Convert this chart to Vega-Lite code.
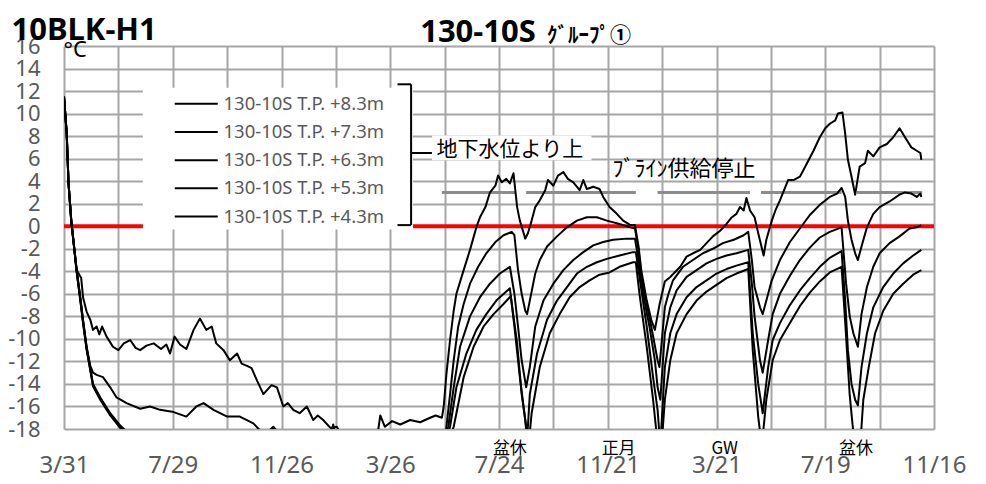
{
"$schema":"https://vega.github.io/schema/vega-lite/v6.json",
"width":870,"height":383,"autosize":"none",
"padding":{"left":64,"top":46,"right":52,"bottom":55},
"background":"white",
"config":{"view":{"stroke":null},"font":"Noto Sans",
 "axis":{"grid":true,"gridColor":"#A6A6A6","gridWidth":2,"ticks":false,"domain":false,"labelPadding":24,"labelFont":"Noto Sans","labelColor":"#595959","labelOverlap":false,"labelFlush":false,"labelBound":false},
 "axisX":{"labelFontSize":24,"labelBaseline":"top"},
 "axisY":{"labelFontSize":22,"labelOverlap":false}},
"layer":[
{"data":{"values":[{}]},"mark":{"type":"rule","color":"#FF0000","strokeWidth":4},
 "encoding":{"y":{"datum":0,"type":"quantitative","scale":{"domain":[-18,16],"nice":false,"zero":false},
   "axis":{"values":[-18,-16,-14,-12,-10,-8,-6,-4,-2,0,2,4,6,8,10,12,14,16],"tickCount":40,"labelExpr":"'' + datum.value","labelOverlap":false,
    "title":"°C","titleAngle":0,"titleAlign":"left","titleBaseline":"alphabetic","titleX":-1,"titleY":10,"titleFont":"Noto Sans","titleFontSize":22,"titleFontWeight":"normal","titleColor":"#000000"}}}},
{"data":{"values":[{"s":"2022-05-22","e":"2022-08-11"},{"s":"2022-08-23","e":"2022-12-22"},{"s":"2023-01-15","e":"2023-04-27"},{"s":"2023-05-09","e":"2023-08-06"},{"s":"2023-08-23","e":"2023-11-03"}]},
 "mark":{"type":"rule","color":"#8C8C8C","strokeWidth":3},
 "encoding":{"x":{"field":"s","type":"temporal","title":null,"scale":{"type":"utc","domain":[{"year":2021,"month":3,"date":31,"utc":true},{"year":2023,"month":11,"date":16,"utc":true}]}},"x2":{"field":"e"},"y":{"datum":3,"type":"quantitative"}}},
{"data":{"values":[{}]},"mark":{"type":"rect","fill":"white"},
 "encoding":{"x":{"datum":{"year":2021,"month":6,"date":26,"utc":true},"type":"temporal","title":null},"x2":{"datum":{"year":2022,"month":4,"date":20,"utc":true}},"y":{"datum":12.3,"type":"quantitative"},"y2":{"datum":-0.3}}},
{"data":{"values":[{}]},"mark":{"type":"rect","fill":"white"},
 "encoding":{"x":{"datum":{"year":2022,"month":5,"date":11,"utc":true},"type":"temporal","title":null},"x2":{"datum":{"year":2022,"month":11,"date":3,"utc":true}},"y":{"datum":8.05,"type":"quantitative"},"y2":{"datum":5.85}}},
{"data":{"values":[
{"t":"2021-03-31","s":"+8.3m","v":11.5},{"t":"2021-04-03","s":"+8.3m","v":8.2},{"t":"2021-04-05","s":"+8.3m","v":3.8},{"t":"2021-04-08","s":"+8.3m","v":0.5},{"t":"2021-04-14","s":"+8.3m","v":-3.9},{"t":"2021-04-19","s":"+8.3m","v":-4.6},{"t":"2021-04-21","s":"+8.3m","v":-6.3},{"t":"2021-04-25","s":"+8.3m","v":-7.6},{"t":"2021-04-29","s":"+8.3m","v":-8.3},{"t":"2021-05-02","s":"+8.3m","v":-9.2},{"t":"2021-05-06","s":"+8.3m","v":-8.9},{"t":"2021-05-09","s":"+8.3m","v":-9.6},{"t":"2021-05-12","s":"+8.3m","v":-8.9},{"t":"2021-05-17","s":"+8.3m","v":-9.8},{"t":"2021-05-24","s":"+8.3m","v":-10.7},{"t":"2021-05-30","s":"+8.3m","v":-11.0},{"t":"2021-06-05","s":"+8.3m","v":-10.4},{"t":"2021-06-12","s":"+8.3m","v":-10.1},{"t":"2021-06-18","s":"+8.3m","v":-10.8},{"t":"2021-06-23","s":"+8.3m","v":-11.0},{"t":"2021-06-30","s":"+8.3m","v":-10.6},{"t":"2021-07-08","s":"+8.3m","v":-10.4},{"t":"2021-07-16","s":"+8.3m","v":-10.9},{"t":"2021-07-22","s":"+8.3m","v":-10.5},{"t":"2021-07-26","s":"+8.3m","v":-11.3},{"t":"2021-07-31","s":"+8.3m","v":-9.8},{"t":"2021-08-06","s":"+8.3m","v":-10.5},{"t":"2021-08-13","s":"+8.3m","v":-10.9},{"t":"2021-08-21","s":"+8.3m","v":-9.2},{"t":"2021-08-28","s":"+8.3m","v":-8.2},{"t":"2021-09-04","s":"+8.3m","v":-9.2},{"t":"2021-09-10","s":"+8.3m","v":-8.9},{"t":"2021-09-15","s":"+8.3m","v":-10.4},{"t":"2021-09-23","s":"+8.3m","v":-11.0},{"t":"2021-09-30","s":"+8.3m","v":-11.9},{"t":"2021-10-08","s":"+8.3m","v":-11.3},{"t":"2021-10-13","s":"+8.3m","v":-12.2},{"t":"2021-10-19","s":"+8.3m","v":-12.4},{"t":"2021-10-24","s":"+8.3m","v":-12.6},{"t":"2021-10-30","s":"+8.3m","v":-13.7},{"t":"2021-11-06","s":"+8.3m","v":-14.9},{"t":"2021-11-15","s":"+8.3m","v":-14.1},{"t":"2021-11-21","s":"+8.3m","v":-14.3},{"t":"2021-11-28","s":"+8.3m","v":-16.0},{"t":"2021-12-03","s":"+8.3m","v":-15.7},{"t":"2021-12-09","s":"+8.3m","v":-16.3},{"t":"2021-12-16","s":"+8.3m","v":-16.6},{"t":"2021-12-24","s":"+8.3m","v":-16.0},{"t":"2021-12-31","s":"+8.3m","v":-17.2},{"t":"2022-01-05","s":"+8.3m","v":-16.8},{"t":"2022-01-11","s":"+8.3m","v":-17.2},{"t":"2022-01-19","s":"+8.3m","v":-17.9},{"t":"2022-01-26","s":"+8.3m","v":-17.8},{"t":"2022-02-04","s":"+8.3m","v":-19.0},{"t":"2022-03-04","s":"+8.3m","v":-19.0},{"t":"2022-03-12","s":"+8.3m","v":-18.5},{"t":"2022-03-15","s":"+8.3m","v":-16.8},{"t":"2022-03-20","s":"+8.3m","v":-17.8},{"t":"2022-03-28","s":"+8.3m","v":-17.3},{"t":"2022-04-06","s":"+8.3m","v":-17.6},{"t":"2022-04-17","s":"+8.3m","v":-17.2},{"t":"2022-04-28","s":"+8.3m","v":-17.4},{"t":"2022-05-09","s":"+8.3m","v":-17.0},{"t":"2022-05-15","s":"+8.3m","v":-16.8},{"t":"2022-05-22","s":"+8.3m","v":-17.0},{"t":"2022-05-24","s":"+8.3m","v":-16.0},{"t":"2022-05-27","s":"+8.3m","v":-13.1},{"t":"2022-05-31","s":"+8.3m","v":-10.1},{"t":"2022-06-04","s":"+8.3m","v":-7.5},{"t":"2022-06-07","s":"+8.3m","v":-6.0},{"t":"2022-06-15","s":"+8.3m","v":-3.9},{"t":"2022-06-22","s":"+8.3m","v":-2.1},{"t":"2022-06-29","s":"+8.3m","v":-0.1},{"t":"2022-07-03","s":"+8.3m","v":0.8},{"t":"2022-07-09","s":"+8.3m","v":1.7},{"t":"2022-07-14","s":"+8.3m","v":3.0},{"t":"2022-07-20","s":"+8.3m","v":3.6},{"t":"2022-07-23","s":"+8.3m","v":4.5},{"t":"2022-07-27","s":"+8.3m","v":3.9},{"t":"2022-08-01","s":"+8.3m","v":4.2},{"t":"2022-08-05","s":"+8.3m","v":3.8},{"t":"2022-08-09","s":"+8.3m","v":4.7},{"t":"2022-08-13","s":"+8.3m","v":1.7},{"t":"2022-08-16","s":"+8.3m","v":0.5},{"t":"2022-08-22","s":"+8.3m","v":-1.1},{"t":"2022-08-25","s":"+8.3m","v":-0.6},{"t":"2022-08-29","s":"+8.3m","v":0.5},{"t":"2022-09-02","s":"+8.3m","v":1.7},{"t":"2022-09-07","s":"+8.3m","v":2.3},{"t":"2022-09-13","s":"+8.3m","v":3.2},{"t":"2022-09-16","s":"+8.3m","v":4.1},{"t":"2022-09-22","s":"+8.3m","v":3.6},{"t":"2022-09-27","s":"+8.3m","v":4.5},{"t":"2022-10-03","s":"+8.3m","v":4.8},{"t":"2022-10-08","s":"+8.3m","v":4.2},{"t":"2022-10-14","s":"+8.3m","v":3.9},{"t":"2022-10-21","s":"+8.3m","v":3.2},{"t":"2022-10-25","s":"+8.3m","v":4.1},{"t":"2022-10-29","s":"+8.3m","v":3.3},{"t":"2022-11-05","s":"+8.3m","v":3.5},{"t":"2022-11-12","s":"+8.3m","v":3.3},{"t":"2022-11-16","s":"+8.3m","v":2.6},{"t":"2022-11-23","s":"+8.3m","v":1.7},{"t":"2022-12-01","s":"+8.3m","v":1.1},{"t":"2022-12-08","s":"+8.3m","v":0.5},{"t":"2022-12-16","s":"+8.3m","v":0.1},{"t":"2022-12-21","s":"+8.3m","v":0.1},{"t":"2022-12-25","s":"+8.3m","v":-1.8},{"t":"2022-12-28","s":"+8.3m","v":-3.9},{"t":"2023-01-03","s":"+8.3m","v":-6.6},{"t":"2023-01-08","s":"+8.3m","v":-8.3},{"t":"2023-01-12","s":"+8.3m","v":-9.2},{"t":"2023-01-17","s":"+8.3m","v":-7.0},{"t":"2023-01-23","s":"+8.3m","v":-4.9},{"t":"2023-01-29","s":"+8.3m","v":-4.5},{"t":"2023-02-09","s":"+8.3m","v":-3.6},{"t":"2023-02-16","s":"+8.3m","v":-2.7},{"t":"2023-02-23","s":"+8.3m","v":-2.4},{"t":"2023-03-03","s":"+8.3m","v":-2.1},{"t":"2023-03-10","s":"+8.3m","v":-1.5},{"t":"2023-03-17","s":"+8.3m","v":-0.9},{"t":"2023-03-25","s":"+8.3m","v":-0.4},{"t":"2023-04-01","s":"+8.3m","v":0.2},{"t":"2023-04-07","s":"+8.3m","v":0.8},{"t":"2023-04-12","s":"+8.3m","v":1.1},{"t":"2023-04-16","s":"+8.3m","v":1.7},{"t":"2023-04-20","s":"+8.3m","v":1.4},{"t":"2023-04-23","s":"+8.3m","v":2.5},{"t":"2023-04-27","s":"+8.3m","v":1.4},{"t":"2023-05-02","s":"+8.3m","v":0.8},{"t":"2023-05-06","s":"+8.3m","v":-0.6},{"t":"2023-05-12","s":"+8.3m","v":-2.6},{"t":"2023-05-15","s":"+8.3m","v":-1.2},{"t":"2023-05-21","s":"+8.3m","v":0.5},{"t":"2023-05-25","s":"+8.3m","v":1.4},{"t":"2023-05-30","s":"+8.3m","v":2.3},{"t":"2023-06-08","s":"+8.3m","v":4.1},{"t":"2023-06-14","s":"+8.3m","v":4.1},{"t":"2023-06-21","s":"+8.3m","v":4.4},{"t":"2023-06-27","s":"+8.3m","v":5.3},{"t":"2023-07-06","s":"+8.3m","v":6.7},{"t":"2023-07-13","s":"+8.3m","v":7.9},{"t":"2023-07-19","s":"+8.3m","v":8.7},{"t":"2023-07-24","s":"+8.3m","v":9.1},{"t":"2023-07-30","s":"+8.3m","v":9.4},{"t":"2023-08-02","s":"+8.3m","v":10.0},{"t":"2023-08-07","s":"+8.3m","v":10.1},{"t":"2023-08-10","s":"+8.3m","v":8.2},{"t":"2023-08-13","s":"+8.3m","v":5.9},{"t":"2023-08-17","s":"+8.3m","v":4.4},{"t":"2023-08-21","s":"+8.3m","v":2.8},{"t":"2023-08-23","s":"+8.3m","v":3.8},{"t":"2023-08-26","s":"+8.3m","v":5.3},{"t":"2023-09-01","s":"+8.3m","v":5.6},{"t":"2023-09-04","s":"+8.3m","v":6.7},{"t":"2023-09-10","s":"+8.3m","v":6.2},{"t":"2023-09-17","s":"+8.3m","v":7.0},{"t":"2023-09-25","s":"+8.3m","v":7.3},{"t":"2023-10-02","s":"+8.3m","v":7.9},{"t":"2023-10-09","s":"+8.3m","v":8.7},{"t":"2023-10-15","s":"+8.3m","v":7.9},{"t":"2023-10-22","s":"+8.3m","v":7.0},{"t":"2023-10-28","s":"+8.3m","v":6.7},{"t":"2023-11-01","s":"+8.3m","v":6.5},{"t":"2023-11-02","s":"+8.3m","v":5.9},
{"t":"2021-03-31","s":"+7.3m","v":11.5},{"t":"2021-04-03","s":"+7.3m","v":8.2},{"t":"2021-04-05","s":"+7.3m","v":3.8},{"t":"2021-04-08","s":"+7.3m","v":0.5},{"t":"2021-04-14","s":"+7.3m","v":-3.9},{"t":"2021-04-18","s":"+7.3m","v":-6.3},{"t":"2021-04-21","s":"+7.3m","v":-8.3},{"t":"2021-04-25","s":"+7.3m","v":-10.7},{"t":"2021-04-29","s":"+7.3m","v":-12.4},{"t":"2021-05-02","s":"+7.3m","v":-13.0},{"t":"2021-05-06","s":"+7.3m","v":-13.2},{"t":"2021-05-13","s":"+7.3m","v":-13.4},{"t":"2021-05-21","s":"+7.3m","v":-14.3},{"t":"2021-05-28","s":"+7.3m","v":-15.2},{"t":"2021-06-08","s":"+7.3m","v":-15.7},{"t":"2021-06-23","s":"+7.3m","v":-16.2},{"t":"2021-07-04","s":"+7.3m","v":-16.0},{"t":"2021-07-15","s":"+7.3m","v":-16.3},{"t":"2021-07-30","s":"+7.3m","v":-16.5},{"t":"2021-08-13","s":"+7.3m","v":-16.9},{"t":"2021-08-24","s":"+7.3m","v":-16.0},{"t":"2021-09-01","s":"+7.3m","v":-15.7},{"t":"2021-09-12","s":"+7.3m","v":-16.3},{"t":"2021-09-27","s":"+7.3m","v":-16.9},{"t":"2021-10-11","s":"+7.3m","v":-16.9},{"t":"2021-10-26","s":"+7.3m","v":-17.5},{"t":"2021-11-02","s":"+7.3m","v":-18.1},{"t":"2021-11-09","s":"+7.3m","v":-18.4},{"t":"2021-11-17","s":"+7.3m","v":-17.8},{"t":"2021-11-24","s":"+7.3m","v":-18.5},{"t":"2021-12-16","s":"+7.3m","v":-18.8},{"t":"2022-01-19","s":"+7.3m","v":-18.6},{"t":"2022-01-22","s":"+7.3m","v":-17.6},{"t":"2022-01-25","s":"+7.3m","v":-18.6},{"t":"2022-02-20","s":"+7.3m","v":-20.0},{"t":"2022-04-30","s":"+7.3m","v":-20.0},{"t":"2022-05-25","s":"+7.3m","v":-19.5},{"t":"2022-05-27","s":"+7.3m","v":-17.8},{"t":"2022-05-31","s":"+7.3m","v":-14.9},{"t":"2022-06-04","s":"+7.3m","v":-11.9},{"t":"2022-06-09","s":"+7.3m","v":-8.9},{"t":"2022-06-15","s":"+7.3m","v":-6.9},{"t":"2022-06-22","s":"+7.3m","v":-5.1},{"t":"2022-07-01","s":"+7.3m","v":-3.6},{"t":"2022-07-10","s":"+7.3m","v":-2.4},{"t":"2022-07-20","s":"+7.3m","v":-1.4},{"t":"2022-07-29","s":"+7.3m","v":-0.8},{"t":"2022-08-07","s":"+7.3m","v":-0.5},{"t":"2022-08-10","s":"+7.3m","v":-0.8},{"t":"2022-08-14","s":"+7.3m","v":-3.9},{"t":"2022-08-18","s":"+7.3m","v":-6.0},{"t":"2022-08-22","s":"+7.3m","v":-7.5},{"t":"2022-08-24","s":"+7.3m","v":-7.8},{"t":"2022-08-27","s":"+7.3m","v":-6.6},{"t":"2022-09-02","s":"+7.3m","v":-4.2},{"t":"2022-09-07","s":"+7.3m","v":-3.0},{"t":"2022-09-15","s":"+7.3m","v":-1.8},{"t":"2022-09-26","s":"+7.3m","v":-0.9},{"t":"2022-10-07","s":"+7.3m","v":-0.1},{"t":"2022-10-18","s":"+7.3m","v":0.5},{"t":"2022-10-29","s":"+7.3m","v":0.8},{"t":"2022-11-09","s":"+7.3m","v":0.8},{"t":"2022-11-20","s":"+7.3m","v":0.5},{"t":"2022-12-04","s":"+7.3m","v":0.2},{"t":"2022-12-16","s":"+7.3m","v":-0.1},{"t":"2022-12-21","s":"+7.3m","v":-0.2},{"t":"2022-12-25","s":"+7.3m","v":-2.1},{"t":"2022-12-28","s":"+7.3m","v":-4.5},{"t":"2023-01-03","s":"+7.3m","v":-6.9},{"t":"2023-01-08","s":"+7.3m","v":-8.9},{"t":"2023-01-15","s":"+7.3m","v":-11.9},{"t":"2023-01-17","s":"+7.3m","v":-12.5},{"t":"2023-01-23","s":"+7.3m","v":-7.2},{"t":"2023-01-27","s":"+7.3m","v":-6.0},{"t":"2023-02-01","s":"+7.3m","v":-4.8},{"t":"2023-02-12","s":"+7.3m","v":-3.6},{"t":"2023-02-23","s":"+7.3m","v":-3.0},{"t":"2023-03-06","s":"+7.3m","v":-2.4},{"t":"2023-03-17","s":"+7.3m","v":-2.0},{"t":"2023-03-28","s":"+7.3m","v":-1.5},{"t":"2023-04-09","s":"+7.3m","v":-1.2},{"t":"2023-04-20","s":"+7.3m","v":-0.8},{"t":"2023-04-25","s":"+7.3m","v":-0.5},{"t":"2023-04-29","s":"+7.3m","v":-3.0},{"t":"2023-05-02","s":"+7.3m","v":-5.4},{"t":"2023-05-08","s":"+7.3m","v":-7.2},{"t":"2023-05-11","s":"+7.3m","v":-7.8},{"t":"2023-05-15","s":"+7.3m","v":-6.6},{"t":"2023-05-21","s":"+7.3m","v":-4.8},{"t":"2023-05-26","s":"+7.3m","v":-3.8},{"t":"2023-05-30","s":"+7.3m","v":-3.0},{"t":"2023-06-10","s":"+7.3m","v":-1.4},{"t":"2023-06-21","s":"+7.3m","v":-0.2},{"t":"2023-07-02","s":"+7.3m","v":1.0},{"t":"2023-07-13","s":"+7.3m","v":1.9},{"t":"2023-07-24","s":"+7.3m","v":2.6},{"t":"2023-08-01","s":"+7.3m","v":2.9},{"t":"2023-08-06","s":"+7.3m","v":3.4},{"t":"2023-08-10","s":"+7.3m","v":2.6},{"t":"2023-08-13","s":"+7.3m","v":0.5},{"t":"2023-08-17","s":"+7.3m","v":-1.2},{"t":"2023-08-21","s":"+7.3m","v":-2.4},{"t":"2023-08-24","s":"+7.3m","v":-3.0},{"t":"2023-08-28","s":"+7.3m","v":-1.8},{"t":"2023-09-03","s":"+7.3m","v":-0.1},{"t":"2023-09-10","s":"+7.3m","v":1.1},{"t":"2023-09-17","s":"+7.3m","v":1.7},{"t":"2023-09-28","s":"+7.3m","v":2.2},{"t":"2023-10-09","s":"+7.3m","v":2.8},{"t":"2023-10-15","s":"+7.3m","v":3.0},{"t":"2023-10-22","s":"+7.3m","v":2.9},{"t":"2023-10-28","s":"+7.3m","v":2.6},{"t":"2023-11-01","s":"+7.3m","v":2.9},{"t":"2023-11-02","s":"+7.3m","v":2.6},
{"t":"2021-03-31","s":"+6.3m","v":11.5},{"t":"2021-04-03","s":"+6.3m","v":8.2},{"t":"2021-04-05","s":"+6.3m","v":3.8},{"t":"2021-04-08","s":"+6.3m","v":0.5},{"t":"2021-04-14","s":"+6.3m","v":-4.0},{"t":"2021-04-18","s":"+6.3m","v":-6.4},{"t":"2021-04-21","s":"+6.3m","v":-8.4},{"t":"2021-04-25","s":"+6.3m","v":-10.8},{"t":"2021-04-29","s":"+6.3m","v":-12.6},{"t":"2021-05-02","s":"+6.3m","v":-14.0},{"t":"2021-05-10","s":"+6.3m","v":-15.2},{"t":"2021-05-21","s":"+6.3m","v":-16.6},{"t":"2021-06-01","s":"+6.3m","v":-17.7},{"t":"2021-06-08","s":"+6.3m","v":-18.2},{"t":"2021-06-20","s":"+6.3m","v":-18.8},{"t":"2021-09-01","s":"+6.3m","v":-19.5},{"t":"2022-01-01","s":"+6.3m","v":-20.0},{"t":"2022-05-20","s":"+6.3m","v":-20.0},{"t":"2022-05-29","s":"+6.3m","v":-17.8},{"t":"2022-06-04","s":"+6.3m","v":-14.3},{"t":"2022-06-11","s":"+6.3m","v":-10.7},{"t":"2022-06-22","s":"+6.3m","v":-8.0},{"t":"2022-07-03","s":"+6.3m","v":-6.3},{"t":"2022-07-14","s":"+6.3m","v":-5.1},{"t":"2022-07-25","s":"+6.3m","v":-4.2},{"t":"2022-08-05","s":"+6.3m","v":-3.6},{"t":"2022-08-10","s":"+6.3m","v":-6.0},{"t":"2022-08-14","s":"+6.3m","v":-8.9},{"t":"2022-08-18","s":"+6.3m","v":-11.9},{"t":"2022-08-23","s":"+6.3m","v":-14.3},{"t":"2022-08-27","s":"+6.3m","v":-12.5},{"t":"2022-09-02","s":"+6.3m","v":-8.9},{"t":"2022-09-11","s":"+6.3m","v":-6.6},{"t":"2022-09-22","s":"+6.3m","v":-5.1},{"t":"2022-10-03","s":"+6.3m","v":-3.9},{"t":"2022-10-14","s":"+6.3m","v":-3.0},{"t":"2022-10-25","s":"+6.3m","v":-2.3},{"t":"2022-11-05","s":"+6.3m","v":-1.7},{"t":"2022-11-16","s":"+6.3m","v":-1.4},{"t":"2022-11-27","s":"+6.3m","v":-1.2},{"t":"2022-12-12","s":"+6.3m","v":-1.1},{"t":"2022-12-21","s":"+6.3m","v":-1.1},{"t":"2022-12-25","s":"+6.3m","v":-3.0},{"t":"2022-12-30","s":"+6.3m","v":-6.0},{"t":"2023-01-06","s":"+6.3m","v":-8.9},{"t":"2023-01-12","s":"+6.3m","v":-11.9},{"t":"2023-01-15","s":"+6.3m","v":-14.3},{"t":"2023-01-18","s":"+6.3m","v":-15.4},{"t":"2023-01-23","s":"+6.3m","v":-9.5},{"t":"2023-01-29","s":"+6.3m","v":-7.2},{"t":"2023-02-05","s":"+6.3m","v":-5.7},{"t":"2023-02-16","s":"+6.3m","v":-4.5},{"t":"2023-02-27","s":"+6.3m","v":-3.9},{"t":"2023-03-10","s":"+6.3m","v":-3.3},{"t":"2023-03-21","s":"+6.3m","v":-2.9},{"t":"2023-04-01","s":"+6.3m","v":-2.6},{"t":"2023-04-12","s":"+6.3m","v":-2.4},{"t":"2023-04-25","s":"+6.3m","v":-2.1},{"t":"2023-04-29","s":"+6.3m","v":-5.1},{"t":"2023-05-02","s":"+6.3m","v":-8.0},{"t":"2023-05-08","s":"+6.3m","v":-11.9},{"t":"2023-05-11","s":"+6.3m","v":-13.0},{"t":"2023-05-17","s":"+6.3m","v":-10.1},{"t":"2023-05-22","s":"+6.3m","v":-7.8},{"t":"2023-05-30","s":"+6.3m","v":-6.0},{"t":"2023-06-10","s":"+6.3m","v":-4.4},{"t":"2023-06-21","s":"+6.3m","v":-3.0},{"t":"2023-07-02","s":"+6.3m","v":-1.9},{"t":"2023-07-13","s":"+6.3m","v":-1.0},{"t":"2023-07-24","s":"+6.3m","v":-0.5},{"t":"2023-08-06","s":"+6.3m","v":-0.1},{"t":"2023-08-08","s":"+6.3m","v":-2.1},{"t":"2023-08-11","s":"+6.3m","v":-5.1},{"t":"2023-08-15","s":"+6.3m","v":-8.0},{"t":"2023-08-19","s":"+6.3m","v":-9.5},{"t":"2023-08-24","s":"+6.3m","v":-10.7},{"t":"2023-08-28","s":"+6.3m","v":-7.8},{"t":"2023-09-03","s":"+6.3m","v":-5.4},{"t":"2023-09-10","s":"+6.3m","v":-3.6},{"t":"2023-09-17","s":"+6.3m","v":-2.4},{"t":"2023-09-28","s":"+6.3m","v":-1.5},{"t":"2023-10-09","s":"+6.3m","v":-0.9},{"t":"2023-10-20","s":"+6.3m","v":-0.2},{"t":"2023-10-28","s":"+6.3m","v":-0.1},{"t":"2023-11-02","s":"+6.3m","v":0.1},
{"t":"2021-03-31","s":"+5.3m","v":11.5},{"t":"2021-04-03","s":"+5.3m","v":8.2},{"t":"2021-04-05","s":"+5.3m","v":3.8},{"t":"2021-04-08","s":"+5.3m","v":0.5},{"t":"2021-04-14","s":"+5.3m","v":-4.0},{"t":"2021-04-18","s":"+5.3m","v":-6.5},{"t":"2021-04-21","s":"+5.3m","v":-8.5},{"t":"2021-04-25","s":"+5.3m","v":-10.9},{"t":"2021-04-29","s":"+5.3m","v":-12.7},{"t":"2021-05-02","s":"+5.3m","v":-14.1},{"t":"2021-05-10","s":"+5.3m","v":-15.3},{"t":"2021-05-21","s":"+5.3m","v":-16.7},{"t":"2021-06-01","s":"+5.3m","v":-17.8},{"t":"2021-06-08","s":"+5.3m","v":-18.3},{"t":"2021-06-20","s":"+5.3m","v":-19.0},{"t":"2021-09-01","s":"+5.3m","v":-20.0},{"t":"2022-01-01","s":"+5.3m","v":-20.5},{"t":"2022-05-20","s":"+5.3m","v":-20.5},{"t":"2022-05-31","s":"+5.3m","v":-17.8},{"t":"2022-06-07","s":"+5.3m","v":-14.3},{"t":"2022-06-18","s":"+5.3m","v":-11.3},{"t":"2022-06-29","s":"+5.3m","v":-9.2},{"t":"2022-07-10","s":"+5.3m","v":-7.8},{"t":"2022-07-21","s":"+5.3m","v":-6.6},{"t":"2022-08-05","s":"+5.3m","v":-5.5},{"t":"2022-08-10","s":"+5.3m","v":-8.9},{"t":"2022-08-16","s":"+5.3m","v":-13.4},{"t":"2022-08-22","s":"+5.3m","v":-17.2},{"t":"2022-08-24","s":"+5.3m","v":-19.0},{"t":"2022-08-27","s":"+5.3m","v":-14.9},{"t":"2022-09-04","s":"+5.3m","v":-11.3},{"t":"2022-09-15","s":"+5.3m","v":-8.3},{"t":"2022-09-26","s":"+5.3m","v":-6.6},{"t":"2022-10-07","s":"+5.3m","v":-5.4},{"t":"2022-10-18","s":"+5.3m","v":-4.2},{"t":"2022-10-29","s":"+5.3m","v":-3.6},{"t":"2022-11-09","s":"+5.3m","v":-3.2},{"t":"2022-11-20","s":"+5.3m","v":-2.9},{"t":"2022-12-04","s":"+5.3m","v":-2.6},{"t":"2022-12-19","s":"+5.3m","v":-2.3},{"t":"2022-12-22","s":"+5.3m","v":-2.3},{"t":"2022-12-26","s":"+5.3m","v":-4.5},{"t":"2023-01-03","s":"+5.3m","v":-8.9},{"t":"2023-01-10","s":"+5.3m","v":-13.4},{"t":"2023-01-15","s":"+5.3m","v":-16.3},{"t":"2023-01-18","s":"+5.3m","v":-19.5},{"t":"2023-01-23","s":"+5.3m","v":-12.5},{"t":"2023-01-29","s":"+5.3m","v":-9.5},{"t":"2023-02-05","s":"+5.3m","v":-7.8},{"t":"2023-02-16","s":"+5.3m","v":-6.3},{"t":"2023-02-27","s":"+5.3m","v":-5.4},{"t":"2023-03-10","s":"+5.3m","v":-4.8},{"t":"2023-03-21","s":"+5.3m","v":-4.2},{"t":"2023-04-01","s":"+5.3m","v":-3.8},{"t":"2023-04-12","s":"+5.3m","v":-3.5},{"t":"2023-04-25","s":"+5.3m","v":-3.2},{"t":"2023-04-30","s":"+5.3m","v":-9.5},{"t":"2023-05-06","s":"+5.3m","v":-14.0},{"t":"2023-05-11","s":"+5.3m","v":-16.6},{"t":"2023-05-17","s":"+5.3m","v":-12.5},{"t":"2023-05-22","s":"+5.3m","v":-10.1},{"t":"2023-05-30","s":"+5.3m","v":-8.6},{"t":"2023-06-10","s":"+5.3m","v":-7.0},{"t":"2023-06-21","s":"+5.3m","v":-5.7},{"t":"2023-07-02","s":"+5.3m","v":-4.6},{"t":"2023-07-13","s":"+5.3m","v":-3.6},{"t":"2023-07-24","s":"+5.3m","v":-2.8},{"t":"2023-08-06","s":"+5.3m","v":-2.2},{"t":"2023-08-10","s":"+5.3m","v":-6.6},{"t":"2023-08-13","s":"+5.3m","v":-11.0},{"t":"2023-08-17","s":"+5.3m","v":-14.0},{"t":"2023-08-21","s":"+5.3m","v":-15.4},{"t":"2023-08-24","s":"+5.3m","v":-15.9},{"t":"2023-08-28","s":"+5.3m","v":-12.5},{"t":"2023-09-03","s":"+5.3m","v":-9.5},{"t":"2023-09-10","s":"+5.3m","v":-7.2},{"t":"2023-09-21","s":"+5.3m","v":-5.4},{"t":"2023-10-02","s":"+5.3m","v":-4.2},{"t":"2023-10-13","s":"+5.3m","v":-3.3},{"t":"2023-10-24","s":"+5.3m","v":-2.6},{"t":"2023-11-02","s":"+5.3m","v":-2.1},
{"t":"2021-03-31","s":"+4.3m","v":11.5},{"t":"2021-04-03","s":"+4.3m","v":8.2},{"t":"2021-04-05","s":"+4.3m","v":3.8},{"t":"2021-04-08","s":"+4.3m","v":0.5},{"t":"2021-04-14","s":"+4.3m","v":-4.1},{"t":"2021-04-18","s":"+4.3m","v":-6.6},{"t":"2021-04-21","s":"+4.3m","v":-8.6},{"t":"2021-04-25","s":"+4.3m","v":-11.0},{"t":"2021-04-29","s":"+4.3m","v":-12.8},{"t":"2021-05-02","s":"+4.3m","v":-14.2},{"t":"2021-05-10","s":"+4.3m","v":-15.4},{"t":"2021-05-21","s":"+4.3m","v":-16.8},{"t":"2021-06-01","s":"+4.3m","v":-17.9},{"t":"2021-06-08","s":"+4.3m","v":-18.4},{"t":"2021-06-20","s":"+4.3m","v":-19.2},{"t":"2021-09-01","s":"+4.3m","v":-20.5},{"t":"2022-01-01","s":"+4.3m","v":-21.0},{"t":"2022-05-20","s":"+4.3m","v":-21.0},{"t":"2022-06-04","s":"+4.3m","v":-17.8},{"t":"2022-06-15","s":"+4.3m","v":-13.4},{"t":"2022-06-26","s":"+4.3m","v":-10.7},{"t":"2022-07-07","s":"+4.3m","v":-8.9},{"t":"2022-07-18","s":"+4.3m","v":-7.8},{"t":"2022-07-29","s":"+4.3m","v":-6.9},{"t":"2022-08-06","s":"+4.3m","v":-6.2},{"t":"2022-08-13","s":"+4.3m","v":-10.4},{"t":"2022-08-18","s":"+4.3m","v":-14.9},{"t":"2022-08-23","s":"+4.3m","v":-17.8},{"t":"2022-08-25","s":"+4.3m","v":-20.0},{"t":"2022-08-29","s":"+4.3m","v":-16.6},{"t":"2022-09-07","s":"+4.3m","v":-12.5},{"t":"2022-09-18","s":"+4.3m","v":-9.5},{"t":"2022-09-29","s":"+4.3m","v":-7.8},{"t":"2022-10-10","s":"+4.3m","v":-6.3},{"t":"2022-10-21","s":"+4.3m","v":-5.4},{"t":"2022-11-01","s":"+4.3m","v":-4.8},{"t":"2022-11-12","s":"+4.3m","v":-4.3},{"t":"2022-11-23","s":"+4.3m","v":-4.1},{"t":"2022-12-04","s":"+4.3m","v":-3.6},{"t":"2022-12-19","s":"+4.3m","v":-3.2},{"t":"2022-12-22","s":"+4.3m","v":-3.2},{"t":"2022-12-26","s":"+4.3m","v":-6.0},{"t":"2023-01-03","s":"+4.3m","v":-10.7},{"t":"2023-01-10","s":"+4.3m","v":-15.4},{"t":"2023-01-14","s":"+4.3m","v":-18.5},{"t":"2023-01-18","s":"+4.3m","v":-21.0},{"t":"2023-01-23","s":"+4.3m","v":-15.4},{"t":"2023-01-29","s":"+4.3m","v":-11.9},{"t":"2023-02-05","s":"+4.3m","v":-9.5},{"t":"2023-02-16","s":"+4.3m","v":-7.8},{"t":"2023-02-27","s":"+4.3m","v":-6.6},{"t":"2023-03-10","s":"+4.3m","v":-5.8},{"t":"2023-03-21","s":"+4.3m","v":-5.2},{"t":"2023-04-01","s":"+4.3m","v":-4.6},{"t":"2023-04-12","s":"+4.3m","v":-4.2},{"t":"2023-04-25","s":"+4.3m","v":-3.8},{"t":"2023-04-30","s":"+4.3m","v":-11.0},{"t":"2023-05-06","s":"+4.3m","v":-16.9},{"t":"2023-05-10","s":"+4.3m","v":-19.5},{"t":"2023-05-15","s":"+4.3m","v":-15.4},{"t":"2023-05-22","s":"+4.3m","v":-11.9},{"t":"2023-05-30","s":"+4.3m","v":-10.1},{"t":"2023-06-10","s":"+4.3m","v":-8.6},{"t":"2023-06-21","s":"+4.3m","v":-7.1},{"t":"2023-07-02","s":"+4.3m","v":-5.9},{"t":"2023-07-13","s":"+4.3m","v":-4.9},{"t":"2023-07-24","s":"+4.3m","v":-4.1},{"t":"2023-08-06","s":"+4.3m","v":-3.6},{"t":"2023-08-10","s":"+4.3m","v":-8.5},{"t":"2023-08-15","s":"+4.3m","v":-15.0},{"t":"2023-08-21","s":"+4.3m","v":-20.0},{"t":"2023-08-24","s":"+4.3m","v":-21.0},{"t":"2023-08-27","s":"+4.3m","v":-19.0},{"t":"2023-08-30","s":"+4.3m","v":-15.4},{"t":"2023-09-05","s":"+4.3m","v":-12.5},{"t":"2023-09-12","s":"+4.3m","v":-9.5},{"t":"2023-09-21","s":"+4.3m","v":-7.5},{"t":"2023-10-02","s":"+4.3m","v":-6.0},{"t":"2023-10-13","s":"+4.3m","v":-5.1},{"t":"2023-10-24","s":"+4.3m","v":-4.3},{"t":"2023-11-02","s":"+4.3m","v":-3.9}
]},
 "mark":{"type":"line","clip":true,"strokeWidth":2,"strokeJoin":"round"},
 "encoding":{
  "x":{"field":"t","type":"temporal","title":null,
   "scale":{"type":"utc","domain":[{"year":2021,"month":3,"date":31,"utc":true},{"year":2023,"month":11,"date":16,"utc":true}]},
   "axis":{"values":[{"year":2021,"month":3,"date":31,"utc":true},{"year":2021,"month":5,"date":30,"utc":true},{"year":2021,"month":7,"date":29,"utc":true},{"year":2021,"month":9,"date":27,"utc":true},{"year":2021,"month":11,"date":26,"utc":true},{"year":2022,"month":1,"date":25,"utc":true},{"year":2022,"month":3,"date":26,"utc":true},{"year":2022,"month":5,"date":25,"utc":true},{"year":2022,"month":7,"date":24,"utc":true},{"year":2022,"month":9,"date":22,"utc":true},{"year":2022,"month":11,"date":21,"utc":true},{"year":2023,"month":1,"date":20,"utc":true},{"year":2023,"month":3,"date":21,"utc":true},{"year":2023,"month":5,"date":20,"utc":true},{"year":2023,"month":7,"date":19,"utc":true},{"year":2023,"month":9,"date":17,"utc":true},{"year":2023,"month":11,"date":16,"utc":true}],"tickCount":40,
    "labelExpr":"round((datum.value - 1617148800000) / 86400000) % 120 == 0 ? utcFormat(datum.value, '%-m/%-d') : ''"}},
  "y":{"field":"v","type":"quantitative","scale":{"domain":[-18,16],"nice":false,"zero":false},
   "axis":{"values":[-18,-16,-14,-12,-10,-8,-6,-4,-2,0,2,4,6,8,10,12,14,16],"tickCount":40,"labelExpr":"'' + datum.value","labelOverlap":false,
    "title":"°C","titleAngle":0,"titleAlign":"left","titleBaseline":"alphabetic","titleX":-1,"titleY":10,"titleFont":"Noto Sans","titleFontSize":22,"titleFontWeight":"normal","titleColor":"#000000"}},
  "color":{"field":"s","type":"nominal","scale":{"domain":["+8.3m","+7.3m","+6.3m","+5.3m","+4.3m"],"range":["#000000","#000000","#000000","#000000","#000000"]},
   "legend":{"orient":"none","legendX":123,"legendY":48.5,"title":null,"symbolType":"M-4.3,0H4.3","symbolSize":100,"symbolStrokeWidth":2,"labelFont":"Noto Sans","labelFontSize":18.5,"labelColor":"#595959","labelOffset":18,"rowPadding":9.2,"padding":0,"labelLimit":300,"labelExpr":"'130-10S T.P. ' + datum.label"}}
 }},
{"data":{"values":[{}]},"mark":{"type":"rule","color":"#000000","strokeWidth":2},
 "encoding":{"x":{"datum":{"year":2022,"month":4,"date":3,"utc":true},"type":"temporal","title":null},"x2":{"datum":{"year":2022,"month":4,"date":18,"utc":true}},"y":{"datum":12.6,"type":"quantitative"}}},
{"data":{"values":[{}]},"mark":{"type":"rule","color":"#000000","strokeWidth":2},
 "encoding":{"x":{"datum":{"year":2022,"month":4,"date":18,"utc":true},"type":"temporal","title":null},"y":{"datum":12.6,"type":"quantitative"},"y2":{"datum":0.1}}},
{"data":{"values":[{}]},"mark":{"type":"rule","color":"#000000","strokeWidth":2},
 "encoding":{"x":{"datum":{"year":2022,"month":4,"date":3,"utc":true},"type":"temporal","title":null},"x2":{"datum":{"year":2022,"month":4,"date":18,"utc":true}},"y":{"datum":0.1,"type":"quantitative"}}},
{"data":{"values":[{}]},"mark":{"type":"rule","color":"#000000","strokeWidth":2},
 "encoding":{"x":{"datum":{"year":2022,"month":4,"date":18,"utc":true},"type":"temporal","title":null},"x2":{"datum":{"year":2022,"month":5,"date":11,"utc":true}},"y":{"datum":6.5,"type":"quantitative"}}},
{"data":{"values":[{}]},"mark":{"type":"text","text":"地下水位より上","font":"Noto Sans CJK JP","fontSize":21,"color":"#000000","align":"center","baseline":"middle"},
 "encoding":{"x":{"datum":{"year":2022,"month":8,"date":5,"utc":true},"type":"temporal","title":null},"y":{"datum":6.74,"type":"quantitative"}}},
{"data":{"values":[{}]},"mark":{"type":"text","text":"ﾌﾞﾗｲﾝ供給停止","font":"Noto Sans CJK JP","fontSize":22,"color":"#000000","align":"center","baseline":"middle"},
 "encoding":{"x":{"datum":{"year":2023,"month":2,"date":13,"utc":true},"type":"temporal","title":null},"y":{"datum":5.12,"type":"quantitative"}}},
{"data":{"values":[{"t":"2022-08-05","label":"盆休"},{"t":"2022-12-03","label":"正月"},{"t":"2023-03-30","label":"GW"},{"t":"2023-08-22","label":"盆休"}]},
 "mark":{"type":"text","font":"Noto Sans CJK JP","fontSize":17,"color":"#000000","align":"center","baseline":"middle","clip":false},
 "encoding":{"x":{"field":"t","type":"temporal","title":null},"y":{"datum":-19.8,"type":"quantitative"},"text":{"field":"label"}}},
{"data":{"values":[{}]},"mark":{"type":"text","text":"10BLK-H1","font":"Noto Sans","fontSize":31,"fontWeight":"bold","color":"#000000","align":"left","baseline":"alphabetic"},
 "encoding":{"x":{"datum":{"year":2021,"month":2,"date":1,"utc":true},"type":"temporal","title":null},"y":{"datum":16.5,"type":"quantitative"}}},
{"data":{"values":[{}]},"mark":{"type":"text","text":"130-10S","font":"Noto Sans","fontSize":31,"fontWeight":"bold","color":"#000000","align":"left","baseline":"alphabetic"},
 "encoding":{"x":{"datum":{"year":2022,"month":4,"date":28,"utc":true},"type":"temporal","title":null},"y":{"datum":16.33,"type":"quantitative"}}},
{"data":{"values":[{}]},"mark":{"type":"text","text":"ｸﾞﾙｰﾌﾟ①","font":"Noto Sans CJK JP","fontSize":21,"fontWeight":"bold","color":"#000000","align":"left","baseline":"alphabetic"},
 "encoding":{"x":{"datum":{"year":2022,"month":9,"date":15,"utc":true},"type":"temporal","title":null},"y":{"datum":16.33,"type":"quantitative"}}}
]
}
